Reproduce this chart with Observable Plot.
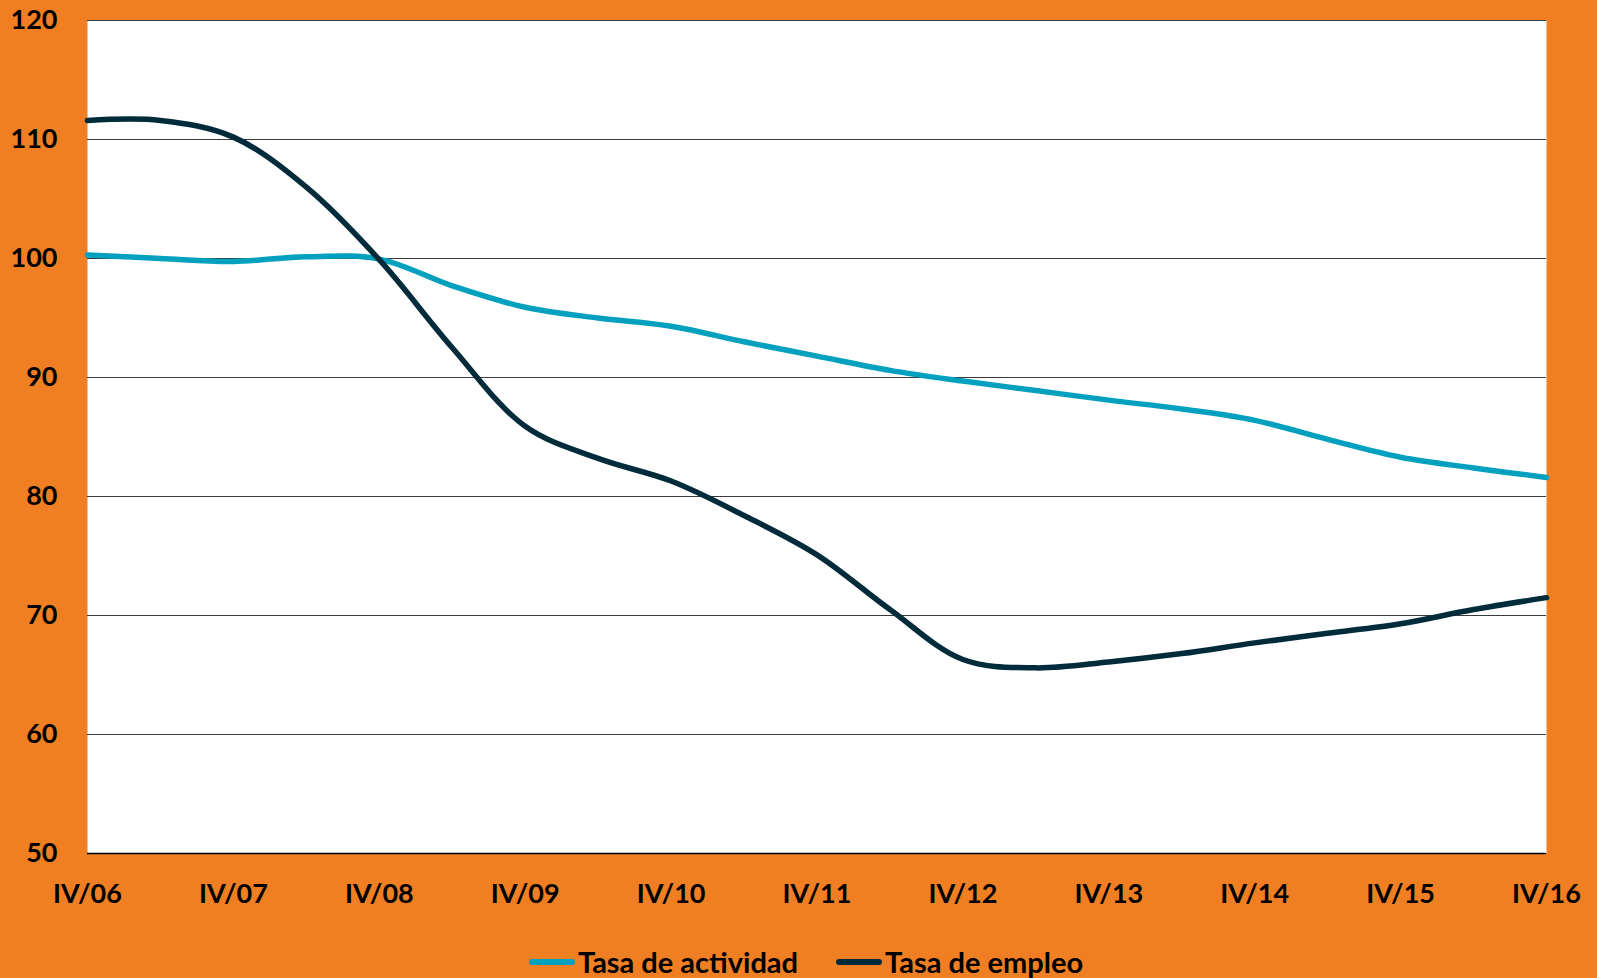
<!DOCTYPE html>
<html>
<head>
<meta charset="utf-8">
<script src="https://cdn.jsdelivr.net/npm/d3@7"></script>
<script src="https://cdn.jsdelivr.net/npm/@observablehq/plot@0.6"></script>
<style>
  html, body { margin: 0; padding: 0; background: #EF7F22; }
  body { width: 1597px; height: 978px; position: relative; overflow: hidden; font-family: Lato, "Open Sans", sans-serif; }
  #legend { position: absolute; top: 944px; left: 0; width: 1612px; display: flex; justify-content: center; align-items: center; gap: 38px;
    font-family: Lato, sans-serif; font-weight: 700; font-size: 29px; color: #000; line-height: 36px; }
  .item { display: flex; align-items: center; gap: 3px; }
</style>
</head>
<body>
<div id="chart"></div>
<div id="legend"></div>
<script>
// Periods (semiannual readings), quarter index from IV/06 = 0
const periods = ["IV/06","II/07","IV/07","II/08","IV/08","II/09","IV/09","II/10","IV/10","II/11","IV/11","II/12","IV/12","II/13","IV/13","II/14","IV/14","II/15","IV/15","II/16","IV/16"];
const quarterIndex = [0,2,4,6,8,10,12,14,16,18,20,22,24,26,28,30,32,34,36,38,40];
const tasaActividad = [100.3,100.0,99.75,100.15,99.95,97.7,95.9,95.0,94.3,93.0,91.8,90.6,89.7,88.9,88.1,87.35,86.4,84.8,83.3,82.4,81.6];
const tasaEmpleo = [111.6,111.6,110.2,106.0,99.9,92.5,85.9,83.2,81.3,78.4,75.1,70.5,66.3,65.6,66.1,66.8,67.7,68.5,69.3,70.5,71.5];
const seriesNames = ["Tasa de actividad","Tasa de empleo"];
const seriesColors = ["#00A0BE","#002B3A"];
const xTickIndex = [0,4,8,12,16,20,24,28,32,36,40];
const xTickLabels = ["IV/06","IV/07","IV/08","IV/09","IV/10","IV/11","IV/12","IV/13","IV/14","IV/15","IV/16"];
const yTicks = [50,60,70,80,90,100,110,120];

const data = [];
periods.forEach((p, i) => {
  data.push({period: p, q: quarterIndex[i], value: tasaActividad[i], series: seriesNames[0]});
});
periods.forEach((p, i) => {
  data.push({period: p, q: quarterIndex[i], value: tasaEmpleo[i], series: seriesNames[1]});
});

const chart = Plot.plot({
  width: 1597,
  height: 930,
  marginTop: 20,
  marginLeft: 87,
  marginRight: 51,
  marginBottom: 77,
  style: { background: "transparent", fontFamily: "Lato, sans-serif", fontWeight: 700, fontSize: "27px", color: "#000" },
  x: { domain: [0, 40], label: null },
  y: { domain: [50, 120], label: null },
  color: { domain: seriesNames, range: seriesColors },
  marks: [
    Plot.frame({ fill: "white", stroke: null }),
    Plot.ruleY(yTicks.filter(v => v !== 50), { stroke: "#3a3a3a", strokeWidth: 1 }),
    Plot.ruleY([50], { stroke: "#000", strokeWidth: 1.5 }),
    Plot.axisX({ ticks: xTickIndex, tickFormat: d => xTickLabels[xTickIndex.indexOf(d)], tickSize: 0, tickPadding: 30, fontSize: 27, fontWeight: 700 }),
    Plot.axisY({ ticks: yTicks, tickSize: 0, tickPadding: 30, fontSize: 27, fontWeight: 700 }),
    Plot.line(data, { x: "q", y: "value", stroke: "series", z: "series", strokeWidth: 5.5, curve: "catmull-rom" })
  ]
});
document.getElementById("chart").appendChild(chart);

const legend = document.getElementById("legend");
seriesNames.forEach((name, i) => {
  const item = document.createElement("div");
  item.className = "item";
  item.innerHTML = `<svg width="46" height="8"><line x1="3" y1="4" x2="43" y2="4" stroke="${seriesColors[i]}" stroke-width="6" stroke-linecap="round"/></svg><span>${name}</span>`;
  legend.appendChild(item);
});
</script>
</body>
</html>
